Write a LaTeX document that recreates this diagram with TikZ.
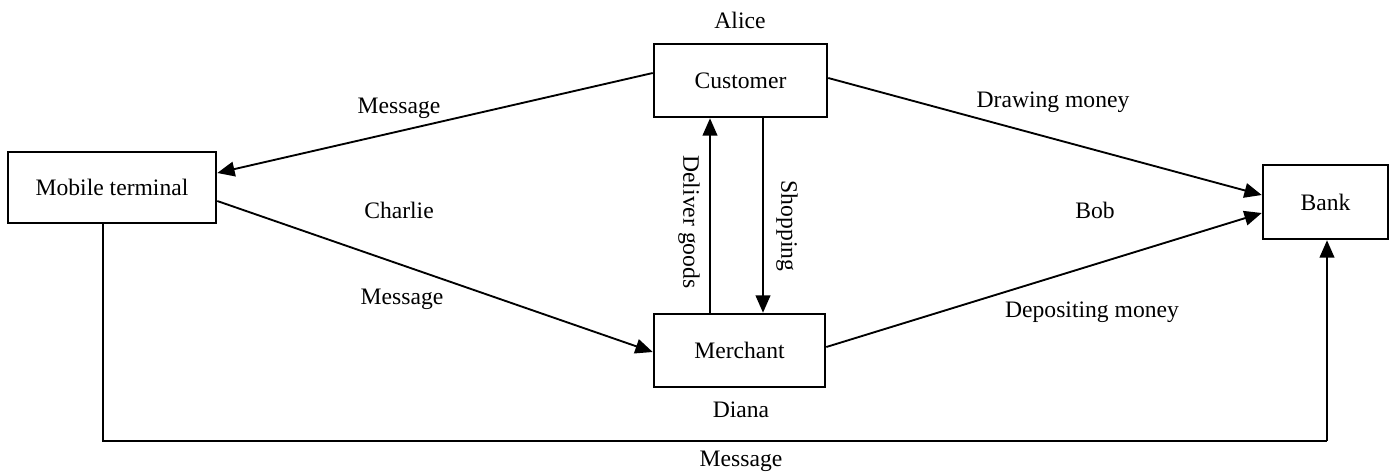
\documentclass[tikz,border=0pt]{standalone}
\usepackage{fontspec}
\setmainfont{Liberation Serif}
\usetikzlibrary{arrows.meta,calc}
\begin{document}
\begin{tikzpicture}[x=0.75pt,y=-0.75pt,
  box/.style={draw,line width=1.9pt,rectangle,inner sep=0pt,font=\fontsize{17.7}{21}\selectfont},
  lbl/.style={inner sep=0pt,font=\fontsize{17.7}{21}\selectfont},
  conn/.style={line width=1.4pt,-{Triangle[length=13pt,width=11pt]}},
  plain/.style={line width=1.4pt}]
\useasboundingbox (0,0) rectangle (1396,472);
\node[box,minimum width=129.75pt,minimum height=54.75pt] (cust) at (740.5,80.5) {Customer};
\node[box,minimum width=128.25pt,minimum height=54.75pt] (merch) at (739.5,350.5) {Merchant};
\node[box,minimum width=156pt,minimum height=53.25pt] (mob) at (112,187.5) {Mobile terminal};
\node[box,minimum width=93.75pt,minimum height=55.5pt] (bank) at (1325.5,202) {Bank};

\draw[conn] ($(cust.west)+(0,-7.5)$) -- ($(mob.east)+(0,-14.5)$);
\draw[conn] ($(mob.east)+(0,13.5)$) -- ($(merch.west)+(0,1.5)$);
\draw[conn] ($(cust.east)+(0,-2.5)$) -- ($(bank.west)+(0,-7)$);
\draw[conn] ($(merch.east)+(0,-3.5)$) -- ($(bank.west)+(0,11)$);
\draw[conn] ($(merch.north)+(-29.5,0)$) -- ($(cust.south)+(-30.5,0)$);
\draw[conn] ($(cust.south)+(22.5,0)$) -- ($(merch.north)+(23.5,0)$);
\coordinate (b1) at (103,441);
\coordinate (b2) at (1327,441);
\draw[plain] ($(mob.south)+(-9,0)$) -- (b1) -- (b2);
\draw[conn] (b2) -- ($(bank.south)+(1.5,0)$);

\node[lbl] (alice) at (740,20) {Alice};
\node[lbl] (msg1) at (399,108) {Message};
\node[lbl] (charlie) at (399,210) {Charlie};
\node[lbl] (msg2) at (402,299) {Message};
\node[lbl] (draw) at (1053,102) {Drawing money};
\node[lbl] (bob) at (1095,210) {Bob};
\node[lbl] (dep) at (1092,312) {Depositing money};
\node[lbl,rotate=-90] (deliver) at (689,222) {Deliver goods};
\node[lbl,rotate=-90] (shop) at (787,226) {Shopping};
\node[lbl] (diana) at (741,410) {Diana};
\node[lbl] (msg3) at (741,461) {Message};
\end{tikzpicture}
\end{document}
